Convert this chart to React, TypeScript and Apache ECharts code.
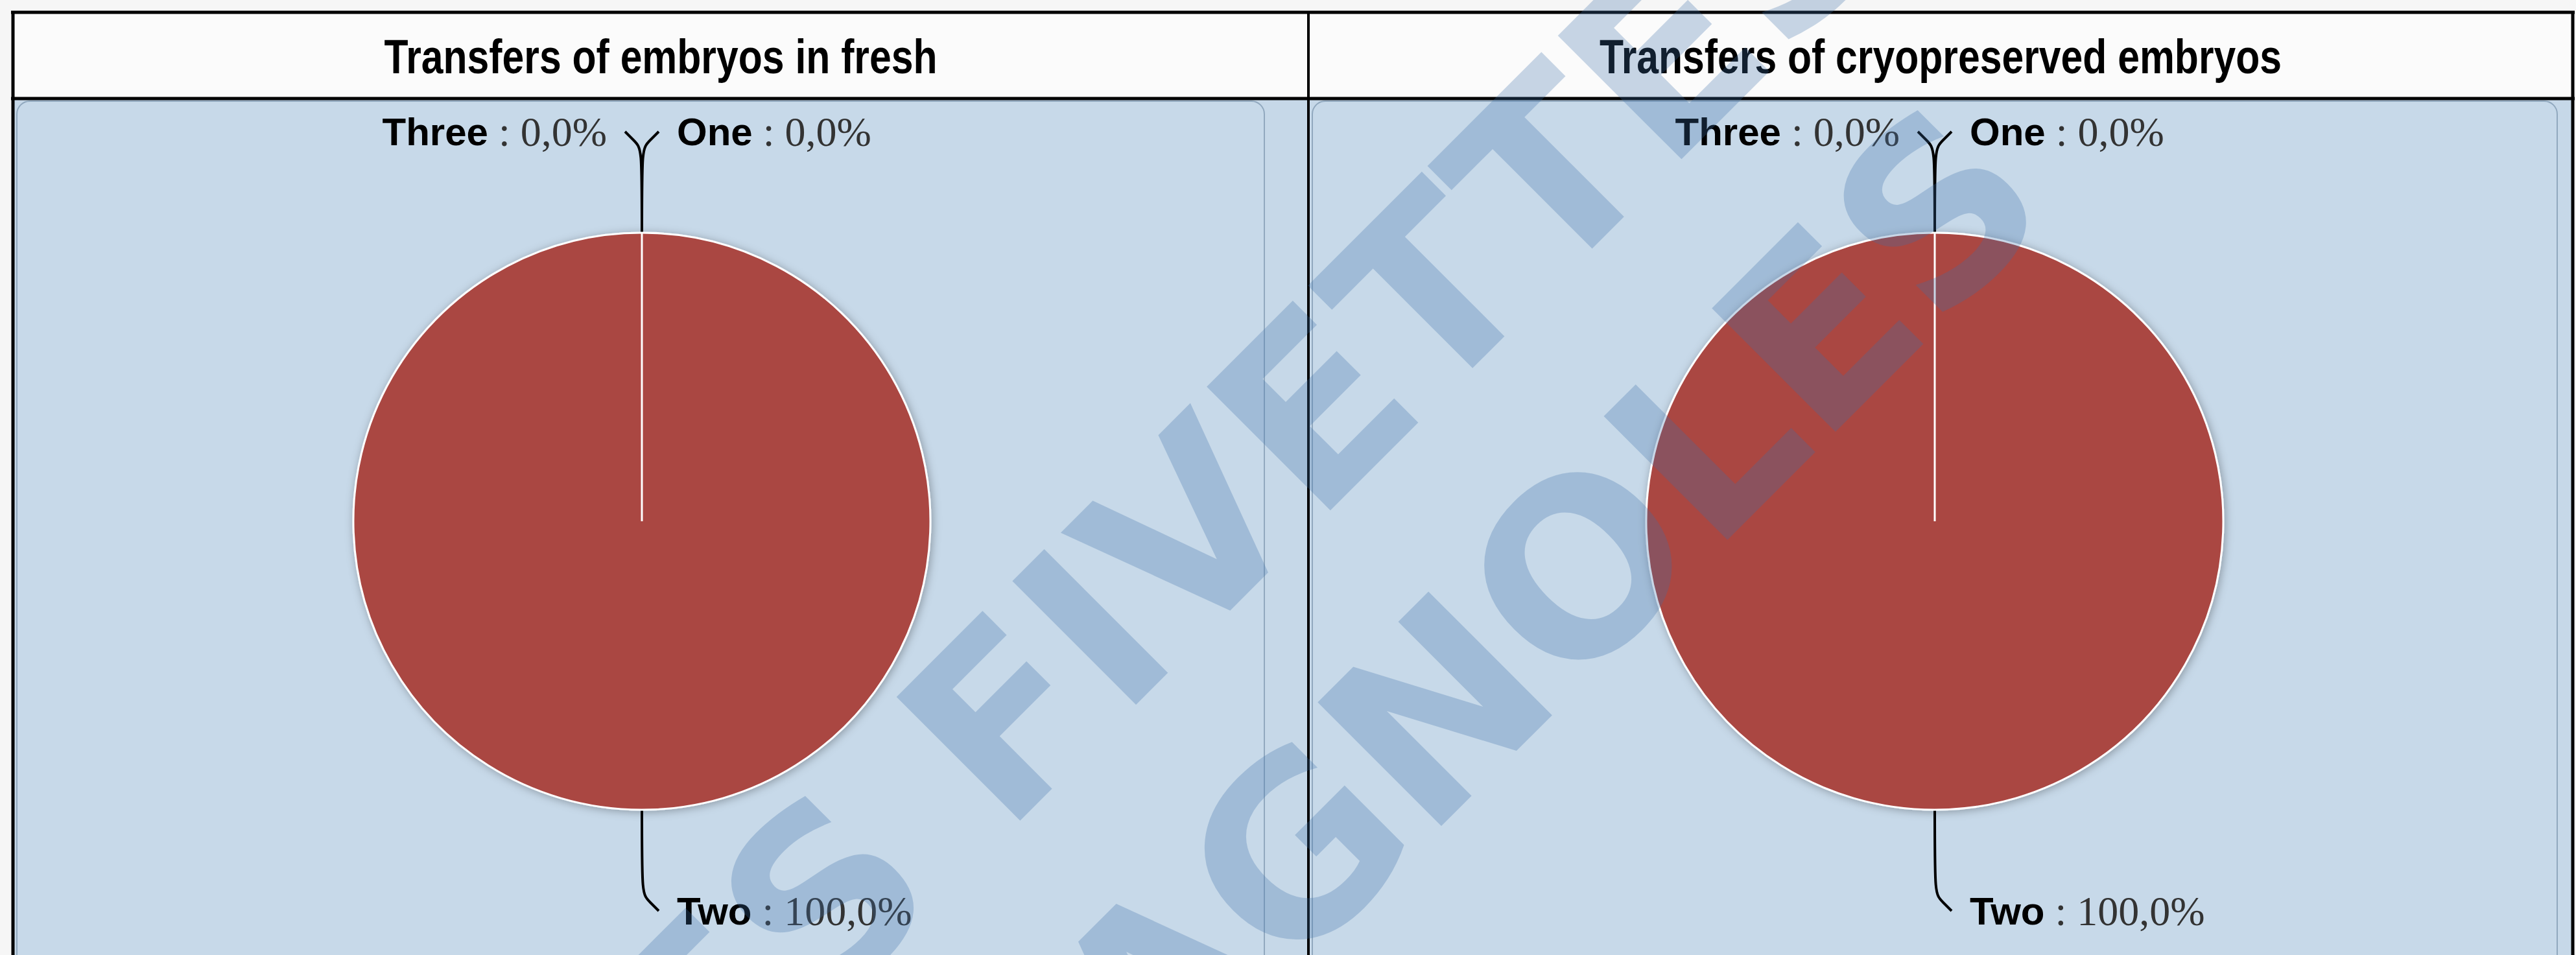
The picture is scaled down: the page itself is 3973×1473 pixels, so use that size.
import React, { useEffect, useRef } from "react";
import * as echarts from "echarts";

const W = 3973;
const H = 1473;

// ---- data ----
const categories = ["One", "Two", "Three"];
const freshValues = [0, 100, 0];
const cryoValues = [0, 100, 0];
const panelTitles = ["Transfers of embryos in fresh", "Transfers of cryopreserved embryos"];
const watermarkLines = ["LES FIVETTES", "ESPAGNOLES"];
const sliceColors = ["#4572A7", "#AA4643", "#89A54E"];

const fmtPct = (p: number) => p.toFixed(1).replace(".", ",");

const LABEL_GAP = 28;
const PIE_RADIUS = 445;
const START_ANGLE = 90;
const PIE_CENTERS: [number, number][] = [
  [990, 804],
  [2984, 804],
];

// Which side each label goes (clockwise from the top: first half -> right, second half -> left)
function labelSides(values: number[]): boolean[] {
  const sum = values.reduce((a, b) => a + b, 0) || 1;
  let cum = 0;
  return values.map((v) => {
    const mid = (cum + v / 2) / sum;
    cum += v;
    return mid <= 0.5;
  });
}

function pieSeries(values: number[], center: [number, number]) {
  const sides = labelSides(values);
  return {
    type: "pie",
    center,
    radius: PIE_RADIUS,
    startAngle: START_ANGLE,
    clockwise: true,
    avoidLabelOverlap: false,
    silent: true,
    z: 2,
    data: categories.map((name, i) => ({
      name,
      value: values[i],
      itemStyle: { color: sliceColors[i] },
    })),
    itemStyle: {
      borderColor: "#ffffff",
      borderWidth: 3,
      shadowBlur: 14,
      shadowColor: "rgba(0,0,0,0.3)",
      shadowOffsetX: 2,
      shadowOffsetY: 2,
    },
    label: {
      show: true,
      position: "outside",
      distanceToLabelLine: LABEL_GAP,
      formatter: (p: any) => `{n|${p.name}}{v| : ${fmtPct(p.percent)}%}`,
      rich: {
        n: {
          fontFamily: "'Liberation Sans', Arial, sans-serif",
          fontWeight: "bold",
          fontSize: 60,
          color: "#000000",
        },
        v: {
          fontFamily: "'Liberation Serif', 'Times New Roman', serif",
          fontSize: 64,
          color: "#333333",
        },
      },
    },
    labelLine: {
      show: true,
      length: 156,
      length2: 26,
      smooth: 1,
      lineStyle: { color: "#000000", width: 4 },
    },
    labelLayout: (params: any) => {
      const pts = params.labelLinePoints;
      if (!pts || pts.length < 3) return {};
      const wantRight = sides[params.dataIndex];
      const isRight = pts[2][0] > pts[1][0];
      if (wantRight === isRight) return {};
      const cornerX = pts[1][0];
      const endX = 2 * cornerX - pts[2][0];
      const newPts = [
        [pts[0][0], pts[0][1]],
        [pts[1][0], pts[1][1]],
        [endX, pts[2][1]],
      ];
      return {
        x: wantRight ? endX + LABEL_GAP : endX - LABEL_GAP,
        y: pts[2][1],
        align: wantRight ? "left" : "right",
        verticalAlign: "middle",
        labelLinePoints: newPts,
      };
    },
    emphasis: { disabled: true },
  };
}

// white slice-boundary line from the centre to the start angle (zero-size slices sit there)
function sliceBoundary(center: [number, number]) {
  const a = (START_ANGLE * Math.PI) / 180;
  return {
    type: "line",
    z: 3,
    silent: true,
    shape: {
      x1: center[0],
      y1: center[1],
      x2: center[0] + PIE_RADIUS * Math.cos(a),
      y2: center[1] - PIE_RADIUS * Math.sin(a),
    },
    style: { stroke: "#ffffff", lineWidth: 3 },
  };
}

export default function App() {
  const ref = useRef<HTMLDivElement>(null);

  useEffect(() => {
    if (!ref.current) return;
    const chart = echarts.init(ref.current, undefined, { renderer: "svg", width: W, height: H });

    const border = "#000000";
    const bw = 5;
    const blue = "#c6d8e8";
    const rot = (Math.PI / 180) * 45;
    const titleStyle = {
      fontFamily: "'Liberation Sans', Arial, sans-serif",
      fontWeight: "bold",
      fontSize: 74,
      fill: "#000000",
      align: "center",
      verticalAlign: "middle",
    };
    const wmStyle = {
      fontFamily: "'DejaVu Sans', sans-serif",
      fontWeight: "bold",
      fontSize: 370,
      fill: "rgba(60,110,170,0.28)",
      align: "center",
      verticalAlign: "middle",
    };

    const background: any[] = [
      { type: "rect", z: 0, shape: { x: 0, y: 0, width: W, height: H }, style: { fill: "#f6f6f6" } },
      { type: "rect", z: 0, shape: { x: 20, y: 19, width: 3948, height: 133 }, style: { fill: "#fbfbfb" } },
      { type: "rect", z: 0, shape: { x: 20, y: 152, width: 3948, height: H }, style: { fill: blue } },
      {
        type: "rect",
        z: 0,
        shape: { x: 26, y: 156, width: 1924, height: 1500, r: 20 },
        style: { fill: "#c7d9e9", stroke: "rgba(80,110,140,0.45)", lineWidth: 2 },
      },
      {
        type: "rect",
        z: 0,
        shape: { x: 2024, y: 156, width: 1920, height: 1500, r: 20 },
        style: { fill: "#c7d9e9", stroke: "rgba(80,110,140,0.45)", lineWidth: 2 },
      },
      { type: "line", z: 1, shape: { x1: 17, y1: 19, x2: 3971, y2: 19 }, style: { stroke: border, lineWidth: bw } },
      { type: "line", z: 1, shape: { x1: 17, y1: 152, x2: 3971, y2: 152 }, style: { stroke: border, lineWidth: bw } },
      { type: "line", z: 1, shape: { x1: 20, y1: 17, x2: 20, y2: H }, style: { stroke: border, lineWidth: bw } },
      { type: "line", z: 1, shape: { x1: 2018, y1: 17, x2: 2018, y2: H }, style: { stroke: border, lineWidth: 4 } },
      { type: "line", z: 1, shape: { x1: 3968, y1: 17, x2: 3968, y2: H }, style: { stroke: border, lineWidth: bw } },
      { type: "text", z: 1, x: 1019, y: 87, scaleX: 0.82, style: { ...titleStyle, text: panelTitles[0] } },
      { type: "text", z: 1, x: 2993, y: 87, scaleX: 0.82, style: { ...titleStyle, text: panelTitles[1] } },
    ];

    const boundaries = PIE_CENTERS.map((c) => sliceBoundary(c));

    const watermark: any[] = [
      { type: "text", z: 100, x: 1840, y: 818, rotation: rot, silent: true, style: { ...wmStyle, text: watermarkLines[0] } },
      { type: "text", z: 100, x: 2120, y: 1196, rotation: rot, silent: true, style: { ...wmStyle, text: watermarkLines[1] } },
    ];

    chart.setOption({
      animation: false,
      backgroundColor: "#f6f6f6",
      graphic: { elements: [...background, ...boundaries, ...watermark] },
      series: [pieSeries(freshValues, PIE_CENTERS[0]), pieSeries(cryoValues, PIE_CENTERS[1])],
    });

    return () => chart.dispose();
  }, []);

  return <div ref={ref} style={{ position: "fixed", left: 0, top: 0, width: W, height: H }} />;
}
